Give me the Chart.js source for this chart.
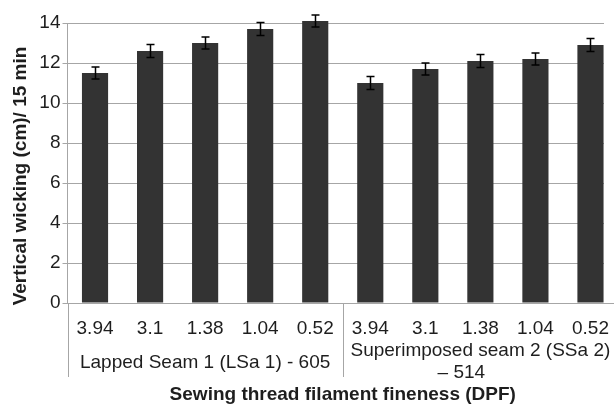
<!DOCTYPE html>
<html>
<head>
<meta charset="utf-8">
<script src="https://cdn.jsdelivr.net/npm/chart.js@4"></script>
<style>
  html, body { margin: 0; padding: 0; background: #fff; overflow: hidden; }
  #wrap { width: 614px; height: 404px; overflow: hidden; }
</style>
</head>
<body>
<div id="wrap"><canvas id="wickChart" width="628" height="404"></canvas></div>
<script>
// 데이터
const fineness = ['3.94', '3.1', '1.38', '1.04', '0.52', '3.94', '3.1', '1.38', '1.04', '0.52'];
const wicking = [11.5, 12.6, 13.0, 13.7, 14.1, 11.0, 11.7, 12.1, 12.2, 12.9];
const wickingErr = [0.3, 0.32, 0.3, 0.32, 0.3, 0.33, 0.3, 0.32, 0.3, 0.33];
const seamGroups = [['Lapped Seam 1 (LSa 1) - 605'], ['Superimposed seam 2 (SSa 2)', '– 514']];
const groupSize = 5;
const yTitle = 'Vertical wicking (cm)/ 15 min';
const xTitle = 'Sewing thread filament fineness (DPF)';

const FONT = "'Liberation Sans', Arial, sans-serif";
const textColor = '#1e1e1e';
const lineGray = '#a6a6a6';

// 에러바 + 그룹 라벨
const extras = {
  id: 'extras',
  beforeDatasetsDraw(chart) {
    const ctx = chart.ctx;
    const area = chart.chartArea;
    // gridlines stop short of the right edge in the original
    ctx.save();
    ctx.fillStyle = '#fff';
    ctx.fillRect(604, 0, 40, area.bottom - 1);
    ctx.restore();
  },
  afterDatasetsDraw(chart) {
    const ctx = chart.ctx;
    const y = chart.scales.y;
    const x = chart.scales.x;
    const area = chart.chartArea;
    const meta = chart.getDatasetMeta(0);

    ctx.save();
    ctx.strokeStyle = '#000';
    ctx.lineWidth = 1.5;
    meta.data.forEach(function (bar, i) {
      const cx = Math.round(bar.x) + 0.5;
      const top = y.getPixelForValue(wicking[i] + wickingErr[i]);
      const bot = y.getPixelForValue(wicking[i] - wickingErr[i]);
      ctx.beginPath();
      ctx.moveTo(cx, top); ctx.lineTo(cx, bot);
      ctx.moveTo(cx - 4, top); ctx.lineTo(cx + 4, top);
      ctx.moveTo(cx - 4, bot); ctx.lineTo(cx + 4, bot);
      ctx.stroke();
    });
    ctx.restore();

    // 구분선
    ctx.save();
    ctx.strokeStyle = lineGray;
    ctx.lineWidth = 1;
    for (let g = 0; g < seamGroups.length; g++) {
      const px = Math.round(x.getPixelForValue(g * groupSize) - x.getPixelForValue(0) + area.left) + 0.5;
      ctx.beginPath();
      ctx.moveTo(px, area.bottom);
      ctx.lineTo(px, area.bottom + 74);
      ctx.stroke();
    }
    ctx.restore();

    // 그룹 라벨
    ctx.save();
    ctx.fillStyle = textColor;
    ctx.font = '19px ' + FONT;
    ctx.textAlign = 'center';
    ctx.textBaseline = 'middle';
    seamGroups.forEach(function (lines, g) {
      const cx = (x.getPixelForValue(g * groupSize) + x.getPixelForValue(g * groupSize + groupSize - 1)) / 2;
      if (lines.length === 1) {
        ctx.fillText(lines[0], cx, area.bottom + 60);
      } else {
        ctx.fillText(lines[0], cx, area.bottom + 48);
        ctx.fillText(lines[1], cx - 19, area.bottom + 70);
      }
    });

    // 축 제목
    ctx.font = 'bold 19px ' + FONT;
    ctx.fillText(xTitle, (area.left + area.right) / 2, 395);
    ctx.translate(21, (area.top + area.bottom) / 2 + 13);
    ctx.rotate(-Math.PI / 2);
    ctx.fillText(yTitle, 0, 0);
    ctx.restore();
  }
};

const ctx = document.getElementById('wickChart').getContext('2d');
const myChart = new Chart(ctx, {
  type: 'bar',
  data: {
    labels: fineness,
    datasets: [{
      data: wicking,
      backgroundColor: '#333333',
      borderWidth: 0,
      categoryPercentage: 1.0,
      barPercentage: 0.475,
      clip: false
    }]
  },
  options: {
    responsive: false,
    animation: false,
    devicePixelRatio: 1,
    layout: { padding: { left: 0, top: 23, right: 10, bottom: 0 } },
    plugins: {
      legend: { display: false },
      tooltip: { enabled: false }
    },
    scales: {
      x: {
        grid: { display: false, drawTicks: false },
        border: { display: false },
        ticks: {
          color: textColor,
          font: { size: 19, family: FONT },
          padding: 14,
          maxRotation: 0,
          autoSkip: false
        },
        afterFit: function (s) { s.height = 101; }
      },
      y: {
        min: 0,
        max: 14,
        grid: { color: lineGray, tickLength: 5 },
        border: { display: true, color: lineGray },
        ticks: {
          stepSize: 2,
          color: textColor,
          font: { size: 19, family: FONT },
          padding: 2
        },
        afterFit: function (s) { s.width = 67.5; }
      }
    }
  },
  plugins: [extras]
});
</script>
</body>
</html>
